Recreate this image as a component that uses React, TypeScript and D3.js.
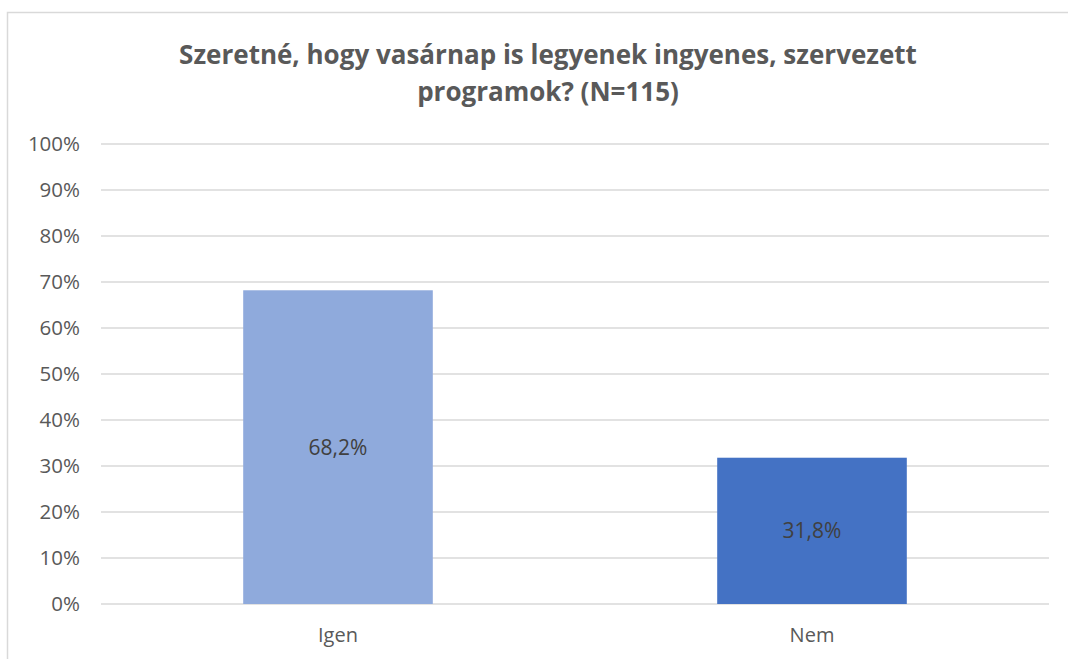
import * as d3 from "d3";
import React, { useEffect, useRef } from "react";

const categories = ["Igen", "Nem"];
const values = [68.2, 31.8];
const valueLabels = ["68,2%", "31,8%"];
const barColors = ["#8faadc", "#4472c4"];
const yTicks = [0, 10, 20, 30, 40, 50, 60, 70, 80, 90, 100];
const titleLines = [
  "Szeretné, hogy vasárnap is legyenek ingyenes, szervezett",
  "programok? (N=115)",
];

const CONFIG = {
  width: 1068,
  height: 659,
  plotLeft: 101,
  plotRight: 1049,
  plotTop: 144,
  plotBottom: 604,
  barFraction: 0.4,
  font: "'Open Sans', sans-serif",
  textColor: "#595959",
  gridColor: "#d9d9d9",
};

const App: React.FC = () => {
  const svgRef = useRef<SVGSVGElement>(null);

  useEffect(() => {
    const svg = d3.select(svgRef.current);
    svg.selectAll("*").remove();

    // chart frame
    svg
      .append("rect")
      .attr("x", 7.5)
      .attr("y", 12.5)
      .attr("width", 1200)
      .attr("height", 800)
      .attr("fill", "white")
      .attr("stroke", CONFIG.gridColor)
      .attr("stroke-width", 1.5);

    const x = d3
      .scaleBand<string>()
      .domain(categories)
      .range([CONFIG.plotLeft, CONFIG.plotRight])
      .padding(0);

    const y = d3
      .scaleLinear()
      .domain([0, 100])
      .range([CONFIG.plotBottom, CONFIG.plotTop]);

    // title
    svg
      .append("g")
      .selectAll("text")
      .data(titleLines)
      .enter()
      .append("text")
      .attr("x", 548)
      .attr("y", (_: any, i: number) => 64 + i * 37)
      .attr("text-anchor", "middle")
      .attr("font-family", CONFIG.font)
      .attr("font-weight", "bold")
      .attr("font-size", 26)
      .attr("fill", CONFIG.textColor)
      .text((d: string) => d);

    // gridlines
    svg
      .append("g")
      .selectAll("line")
      .data(yTicks)
      .enter()
      .append("line")
      .attr("x1", CONFIG.plotLeft)
      .attr("x2", CONFIG.plotRight)
      .attr("y1", (d: number) => y(d))
      .attr("y2", (d: number) => y(d))
      .attr("stroke", CONFIG.gridColor)
      .attr("stroke-width", 1.5);

    // y tick labels
    svg
      .append("g")
      .selectAll("text")
      .data(yTicks)
      .enter()
      .append("text")
      .attr("x", 80)
      .attr("y", (d: number) => y(d))
      .attr("dy", "0.36em")
      .attr("text-anchor", "end")
      .attr("font-family", CONFIG.font)
      .attr("font-size", 20.5)
      .attr("fill", CONFIG.textColor)
      .text((d: number) => `${d}%`);

    const barWidth = x.bandwidth() * CONFIG.barFraction;
    const barX = (c: string) =>
      (x(c) as number) + (x.bandwidth() - barWidth) / 2;

    // bars
    svg
      .append("g")
      .selectAll("rect")
      .data(categories)
      .enter()
      .append("rect")
      .attr("x", (c: string) => barX(c))
      .attr("y", (_: string, i: number) => y(values[i]))
      .attr("width", barWidth)
      .attr("height", (_: string, i: number) => y(0) - y(values[i]))
      .attr("fill", (_: string, i: number) => barColors[i]);

    // value labels
    svg
      .append("g")
      .selectAll("text")
      .data(categories)
      .enter()
      .append("text")
      .attr("x", (c: string) => (x(c) as number) + x.bandwidth() / 2)
      .attr("y", (_: string, i: number) => (y(values[i]) + y(0)) / 2)
      .attr("dy", "0.36em")
      .attr("text-anchor", "middle")
      .attr("font-family", CONFIG.font)
      .attr("font-size", 21)
      .attr("fill", "#404040")
      .text((_: string, i: number) => valueLabels[i]);

    // x labels
    svg
      .append("g")
      .selectAll("text")
      .data(categories)
      .enter()
      .append("text")
      .attr("x", (c: string) => (x(c) as number) + x.bandwidth() / 2)
      .attr("y", 642)
      .attr("text-anchor", "middle")
      .attr("font-family", CONFIG.font)
      .attr("font-size", 20)
      .attr("fill", CONFIG.textColor)
      .text((c: string) => c);
  }, []);

  return (
    <svg
      ref={svgRef}
      width={CONFIG.width}
      height={CONFIG.height}
      style={{ position: "absolute", left: 0, top: 0, overflow: "hidden" }}
    />
  );
};

export default App;
